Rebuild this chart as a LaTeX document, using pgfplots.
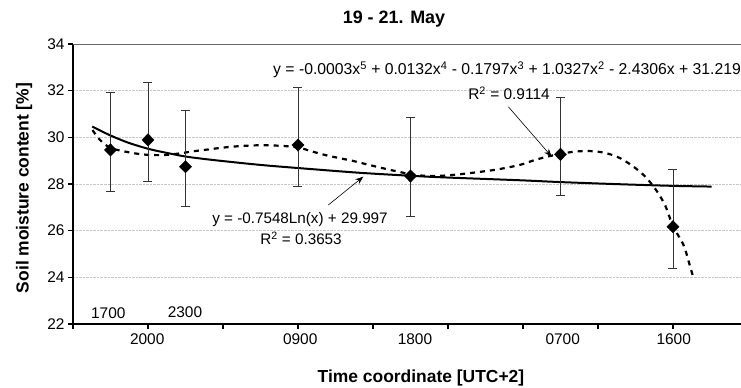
\documentclass[border=0pt]{standalone}
\usepackage{fontspec}
\setmainfont{Liberation Sans}
\usepackage{pgfplots}
\pgfplotsset{compat=1.18}
\usetikzlibrary{arrows.meta}
\begin{document}
\begin{tikzpicture}[x=1bp,y=1bp]
\begin{axis}[
 at={(0,0)}, anchor=south west,
 scale only axis, width=668bp, height=280bp,
 xmin=0, xmax=8.907, ymin=22, ymax=34,
 axis x line=bottom, axis y line=left,
 axis line style={-, line width=1.4bp, black},
 xtick={0,1,...,8}, xticklabels={},
 extra x ticks={0.99,3.03,4.56,6.53,8.01},
 extra x tick labels={2000,0900,1800,0700,1600},
 extra x tick style={major tick length=0pt, xticklabel style={yshift=-6bp}},
 ytick={22,24,...,34},
 tick align=outside, major tick length=5bp,
 tick style={black, line width=1.2bp},
 ymajorgrids, grid style={densely dotted, gray!45, line width=0.6bp},
 tick label style={font=\fontsize{15.5}{17}\selectfont},
 /pgf/number format/assume math mode=true,
 clip=false,
]
% logarithmic trend line
\addplot[smooth, line width=2bp, black] coordinates {
(0.257,30.46) (0.493,30.09) (0.737,29.77) (1.013,29.50) (1.271,29.32) (1.516,29.17)
(1.893,29.02) (2.493,28.82) (3.017,28.68) (3.827,28.48) (4.52,28.35) (4.893,28.29)
(5.96,28.16) (6.516,28.08) (7.293,27.99) (8.004,27.92) (8.516,27.89)};
% polynomial trend line
\addplot[smooth, line width=2.2bp, black, dash pattern=on 5bp off 5bp] coordinates {
(0.26,30.31) (0.36,29.89) (0.49,29.56) (0.65,29.42) (0.83,29.31) (1.0,29.25)
(1.2,29.24) (1.4,29.30) (1.6,29.40) (1.8,29.48) (2.0,29.56) (2.25,29.63)
(2.5,29.66) (2.75,29.64) (3.0,29.57) (3.16,29.42) (3.34,29.26) (3.52,29.13)
(3.72,29.0) (3.92,28.84) (4.14,28.67) (4.32,28.54) (4.52,28.41) (4.75,28.34)
(5.0,28.37) (5.3,28.47) (5.65,28.62) (5.96,28.82) (6.15,29.02) (6.36,29.20)
(6.67,29.38) (6.9,29.41) (7.1,29.33) (7.3,29.10) (7.5,28.68) (7.65,28.25)
(7.79,27.67) (7.9,27.05) (8.0,26.2) (8.14,25.39) (8.21,24.67) (8.27,24.0)};
% measured values with error bars
\addplot[only marks, mark=diamond*, mark size=6.2bp, mark options={xscale=1.3, black, fill=black},
 error bars/.cd, y dir=both, y explicit,
 error bar style={line width=0.8bp, black!80},
 error mark=-,
 error mark options={rotate=90, mark size=4.5bp, line width=0.8bp, black!80}]
coordinates {
(0.5,29.46) += (0,2.48) -= (0,1.79)
(1.0,29.89) += (0,2.45) -= (0,1.78)
(1.5,28.74) += (0,2.43) -= (0,1.71)
(3.0,29.67) += (0,2.47) -= (0,1.76)
(4.5,28.34) += (0,2.50) -= (0,1.74)
(6.5,29.27) += (0,2.44) -= (0,1.74)
(8.0,26.17) += (0,2.46) -= (0,1.78)};
\end{axis}
% top frame line
\draw[black!60, line width=0.8bp] (0,280) -- (668,280);
% extra time labels inside the plot
\node[font=\fontsize{15.5}{17}\selectfont] at (35.3,10.7) {1700};
\node[font=\fontsize{15.5}{17}\selectfont] at (112,11.7) {2300};
% annotations
\node[anchor=east, font=\fontsize{15.8}{17}\selectfont, inner sep=0pt] at (668,254)
 {y = -0.0003x\textsuperscript{5} + 0.0132x\textsuperscript{4} - 0.1797x\textsuperscript{3} + 1.0327x\textsuperscript{2} - 2.4306x + 31.219};
\node[font=\fontsize{15.5}{17}\selectfont, inner sep=0pt] at (436,231) {R\textsuperscript{2} = 0.9114};
\draw[-{Stealth[length=8bp,width=6bp]}, line width=0.6bp] (435.3,217.3) -- (478.7,167.3);
\node[font=\fontsize{15.3}{17}\selectfont, inner sep=0pt] at (227,104.7) {y = -0.7548Ln(x) + 29.997};
\node[font=\fontsize{15.3}{17}\selectfont, inner sep=0pt] at (228,86) {R\textsuperscript{2} = 0.3653};
\draw[-{Stealth[length=8bp,width=6bp]}, line width=0.6bp] (255.3,119) -- (290.3,147.3);
% title and axis labels
\node[font=\fontsize{18}{20}\selectfont\bfseries] at (321,305) {19 - 21. May};
\node[font=\fontsize{17.5}{20}\selectfont\bfseries, rotate=90] at (-49,136) {Soil moisture content [\%]};
\node[font=\fontsize{17.5}{20}\selectfont\bfseries] at (348,-54) {Time coordinate [UTC+2]};
\pgfresetboundingbox
\path[use as bounding box] (-73,-63) rectangle (668,324);
\end{tikzpicture}
\end{document}
